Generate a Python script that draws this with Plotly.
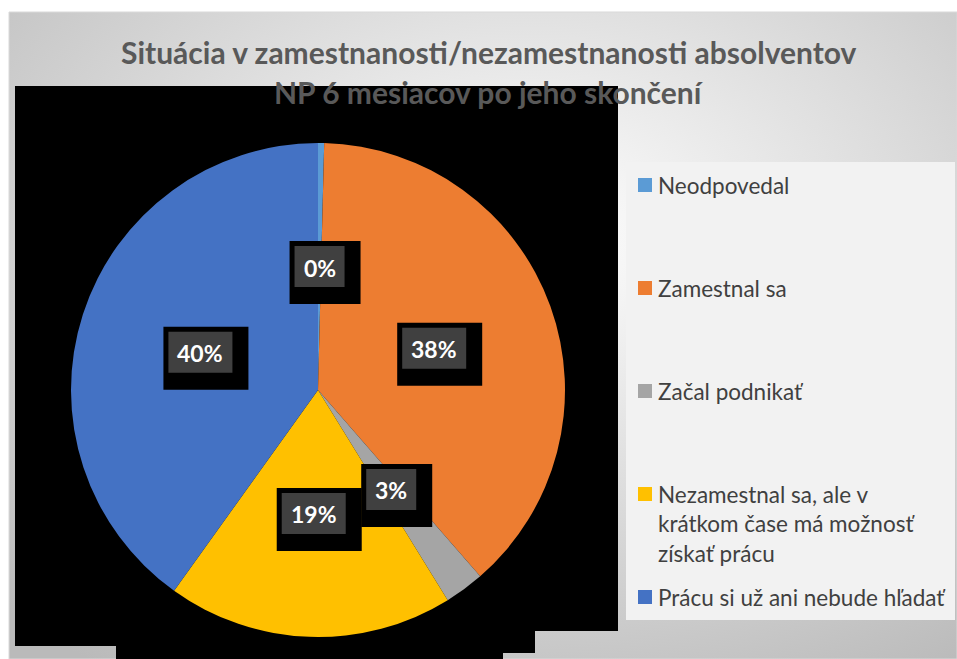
import base64
import math
import plotly.graph_objects as go

# ---------------- data ----------------
categories = ["Neodpovedal", "Zamestnal sa", "Začal podnikať",
              "Nezamestnal sa, ale v krátkom čase má možnosť získať prácu",
              "Prácu si už ani nebude hľadať"]
legend_labels = ["Neodpovedal", "Zamestnal sa", "Začal podnikať",
                 "Nezamestnal sa, ale v<br>krátkom čase má možnosť<br>získať prácu",
                 "Prácu si už ani nebude hľadať"]
values = [0.4, 38.2, 2.6, 18.7, 40.1]
colors = ["#5B9BD5", "#ED7D31", "#A5A5A5", "#FFC000", "#4472C4"]
title_lines = ["Situácia v zamestnanosti/nezamestnanosti absolventov",
               "NP 6 mesiacov po jeho skončení"]

# ---------------- layout helpers ----------------
W, H = 957, 659
OFF = 0  # body margin removed below
def X(px): return (px - OFF) / W
def Y(py): return 1 - (py - OFF) / H

CX, CY, R = 318, 390, 247  # pie centre / radius in page px
FONT = "Lato"

shapes = []
annotations = []
images = []

# background gradient (chart area)
svg = ('<svg xmlns="http://www.w3.org/2000/svg" width="948" height="647" viewBox="0 0 948 647" '
       'preserveAspectRatio="none"><defs><radialGradient id="g" cx="0.55" cy="0.35" r="0.8">'
       '<stop offset="0" stop-color="#ffffff"/><stop offset="1" stop-color="#bababa"/>'
       '</radialGradient></defs><rect width="948" height="647" fill="url(#g)"/></svg>')
images.append(dict(source="data:image/svg+xml;base64," + base64.b64encode(svg.encode()).decode(),
                   xref="paper", yref="paper", x=X(9), y=Y(12), sizex=948 / W, sizey=647 / H,
                   xanchor="left", yanchor="top", sizing="stretch", layer="below"))
shapes.append(dict(type="rect", xref="paper", yref="paper", x0=X(9), x1=X(957), y0=Y(659), y1=Y(12),
                   line=dict(color="#d9d9d9", width=1), fillcolor="rgba(0,0,0,0)", layer="below"))

# black plot area
pts = [(15, 86), (618, 86), (618, 631), (535, 631), (535, 653), (503, 653), (503, 659),
       (116, 659), (116, 646), (15, 646)]
path = "M " + " L ".join(f"{X(a):.5f},{Y(b):.5f}" for a, b in pts) + " Z"
shapes.append(dict(type="path", xref="paper", yref="paper", path=path,
                   fillcolor="black", line=dict(width=0), layer="below"))

# legend box
shapes.append(dict(type="rect", xref="paper", yref="paper", x0=X(626), x1=X(955), y0=Y(620), y1=Y(162),
                   fillcolor="#f2f2f2", line=dict(width=0), layer="below"))

# ---------------- pie ----------------
fig = go.Figure(go.Pie(
    labels=categories, values=values, sort=False, direction="clockwise", rotation=0,
    marker=dict(colors=colors, line=dict(width=0)), textinfo="none",
    domain=dict(x=[X(CX - R), X(CX + R)], y=[Y(CY + R), Y(CY - R)]),
    showlegend=False, hoverinfo="label+percent"))

# data labels (boxes placed at half radius on slice mid-angle)
total = sum(values)
cum = 0
for v in values:
    mid = (cum + v / 2) / total
    cum += v
    th = 2 * math.pi * mid
    lx = CX + 0.5 * R * math.sin(th)
    ly = CY - 0.5 * R * math.cos(th)
    txt = f"{round(100 * v / total)}%"
    w = 22 + 14 * len(txt)
    h = 41
    x0, y0 = lx - w / 2, ly - h / 2
    shapes.append(dict(type="rect", xref="paper", yref="paper",
                       x0=X(x0 - 5), x1=X(x0 + w + 16), y0=Y(y0 + h + 17), y1=Y(y0 - 5),
                       fillcolor="black", line=dict(width=0), layer="above"))
    shapes.append(dict(type="rect", xref="paper", yref="paper",
                       x0=X(x0), x1=X(x0 + w), y0=Y(y0 + h), y1=Y(y0),
                       fillcolor="#404040", line=dict(width=0), layer="above"))
    annotations.append(dict(xref="paper", yref="paper", x=X(lx), y=Y(ly + 1), text=txt,
                            showarrow=False, xanchor="center", yanchor="middle",
                            font=dict(family=FONT, size=23, color="white", weight="bold")))

# manual legend
legend_y = [185, 288, 391, 494, 597]
for lab, col, ly in zip(legend_labels, colors, legend_y):
    shapes.append(dict(type="rect", xref="paper", yref="paper", x0=X(638), x1=X(652),
                       y0=Y(ly + 7), y1=Y(ly - 7), fillcolor=col, line=dict(width=0), layer="above"))
    nlines = lab.count("<br>") + 1
    yc = ly + (nlines - 1) * 15
    annotations.append(dict(xref="paper", yref="paper", x=X(656), y=Y(yc), text=lab,
                            showarrow=False, xanchor="left", yanchor="middle", align="left",
                            font=dict(family=FONT, size=22.5, color="#404040")))

# title
for i, t in enumerate(title_lines):
    annotations.append(dict(xref="paper", yref="paper", x=X(489), y=Y(52 + 40 * i), text=t,
                            showarrow=False, xanchor="center", yanchor="middle",
                            font=dict(family=FONT, size=30, color="#595959", weight="bold")))

fig.update_layout(width=W, height=H, margin=dict(l=0, r=0, t=0, b=0),
                  paper_bgcolor="white", plot_bgcolor="white",
                  shapes=shapes, annotations=annotations, images=images, showlegend=False)
fig.write_html("out.html", default_width=f"{W}px", default_height=f"{H}px",
               config={"displayModeBar": False},
               post_script="document.body.style.margin='0';"
                           "document.documentElement.style.overflow='hidden';")
